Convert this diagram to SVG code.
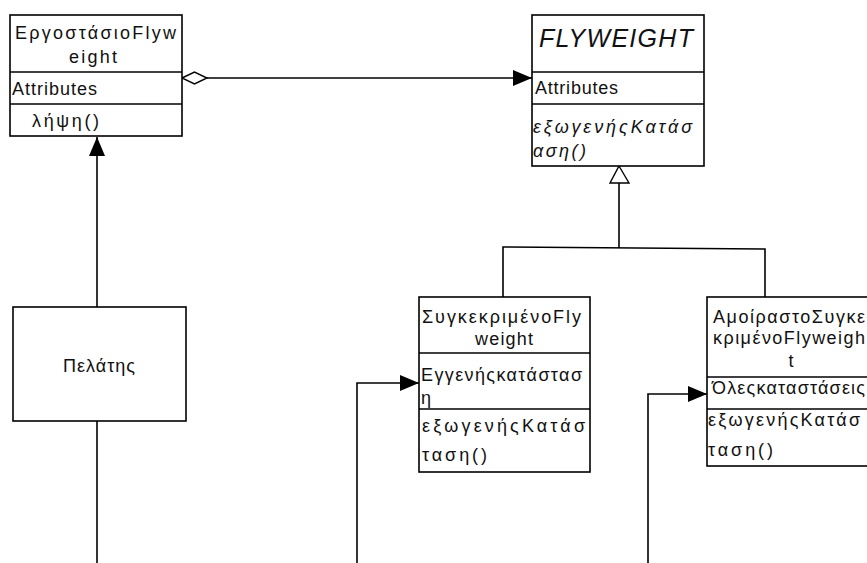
<svg xmlns="http://www.w3.org/2000/svg" width="867" height="563" viewBox="0 0 867 563">
<style>
  .box { fill: #ffffff; stroke: #000000; stroke-width: 1.6; }
  .div { stroke: #000000; stroke-width: 1.4; fill: none; }
  .t { font-family: "Liberation Sans", Arial, sans-serif; font-size: 18px; fill: #111111; }
  .it { font-style: italic; }
  .big { font-size: 25px; }
  .mid { text-anchor: middle; }
  .ln { stroke: #000000; stroke-width: 1.6; fill: none; }
  .hollow { fill: #ffffff; stroke: #000000; stroke-width: 1.4; }
</style>
<defs>
  <marker id="arrow" viewBox="0 0 19 16" refX="19" refY="8" markerWidth="19" markerHeight="16" markerUnits="userSpaceOnUse" orient="auto">
    <path d="M0,0 L19,8 L0,16 z" fill="#000000"/>
  </marker>
</defs>
<rect width="867" height="563" fill="#ffffff"/>

<g id="connectors">
  <line class="ln" x1="207" y1="78" x2="532" y2="78" marker-end="url(#arrow)"/>
  <polygon class="hollow" points="182,78 194.5,72 207,78 194.5,84"/>
  <line class="ln" x1="619" y1="183" x2="619" y2="248"/>
  <polygon class="hollow" points="619,166 629,183 610,183"/>
  <polyline class="ln" points="503,297 503,247 765,249 765,297"/>
  <line class="ln" x1="97" y1="307" x2="97" y2="137" marker-end="url(#arrow)"/>
  <line class="ln" x1="97" y1="421" x2="97" y2="563"/>
  <polyline class="ln" points="357,563 357,383 419,383" marker-end="url(#arrow)"/>
  <polyline class="ln" points="648,563 648,394 707,394" marker-end="url(#arrow)"/>
</g>

<g id="factory">
  <rect class="box" x="10" y="15" width="172" height="121"/>
  <line class="div" x1="10" y1="72" x2="182" y2="72"/>
  <line class="div" x1="10" y1="104" x2="182" y2="104"/>
  <text class="t" x="15" y="39" textLength="161" lengthAdjust="spacing">ΕργοστάσιοFlyw</text>
  <text class="t" x="69" y="63" textLength="48" lengthAdjust="spacing">eight</text>
  <text class="t" x="12" y="95" textLength="85" lengthAdjust="spacing">Attributes</text>
  <text class="t" x="32" y="127" textLength="67" lengthAdjust="spacing">λήψη()</text>
</g>

<g id="flyweight">
  <rect class="box" x="532" y="15" width="172" height="151"/>
  <line class="div" x1="532" y1="72" x2="704" y2="72"/>
  <line class="div" x1="532" y1="104" x2="704" y2="104"/>
  <text class="t it big" x="539" y="47" textLength="154" lengthAdjust="spacing">FLYWEIGHT</text>
  <text class="t" x="535" y="94" textLength="83" lengthAdjust="spacing">Attributes</text>
  <text class="t it" x="533" y="133" textLength="159" lengthAdjust="spacing">εξωγενήςΚατάσ</text>
  <text class="t it" x="533" y="157" textLength="53" lengthAdjust="spacing">αση()</text>
</g>

<g id="client">
  <rect class="box" x="13" y="307" width="173" height="114"/>
  <text class="t mid" x="99" y="372" textLength="72" lengthAdjust="spacing">Πελάτης</text>
</g>

<g id="concrete">
  <rect class="box" x="419" y="297" width="171" height="175"/>
  <line class="div" x1="419" y1="353" x2="590" y2="353"/>
  <line class="div" x1="419" y1="409" x2="590" y2="409"/>
  <text class="t" x="422" y="323" textLength="159" lengthAdjust="spacing">ΣυγκεκριμένοFly</text>
  <text class="t mid" x="504" y="345" textLength="58" lengthAdjust="spacing">weight</text>
  <text class="t" x="421" y="381" textLength="161" lengthAdjust="spacing">Εγγενήςκατάστασ</text>
  <text class="t" x="421" y="404">η</text>
  <text class="t" x="422" y="432" textLength="163" lengthAdjust="spacing">εξωγενήςΚατάσ</text>
  <text class="t" x="422" y="461" textLength="65" lengthAdjust="spacing">ταση()</text>
</g>

<g id="unshared">
  <rect class="box" x="707" y="297" width="171" height="169"/>
  <line class="div" x1="707" y1="377" x2="878" y2="377"/>
  <line class="div" x1="707" y1="409" x2="878" y2="409"/>
  <text class="t" x="713" y="323" textLength="152" lengthAdjust="spacing">ΑμοίραστοΣυγκε</text>
  <text class="t" x="713" y="344" textLength="152" lengthAdjust="spacing">κριμένοFlyweigh</text>
  <text class="t mid" x="791" y="367">t</text>
  <text class="t" x="712" y="394" textLength="153" lengthAdjust="spacing">Όλεςκαταστάσεις</text>
  <text class="t" x="708" y="426" textLength="152" lengthAdjust="spacing">εξωγενήςΚατάσ</text>
  <text class="t" x="708" y="456" textLength="65" lengthAdjust="spacing">ταση()</text>
</g>
</svg>
